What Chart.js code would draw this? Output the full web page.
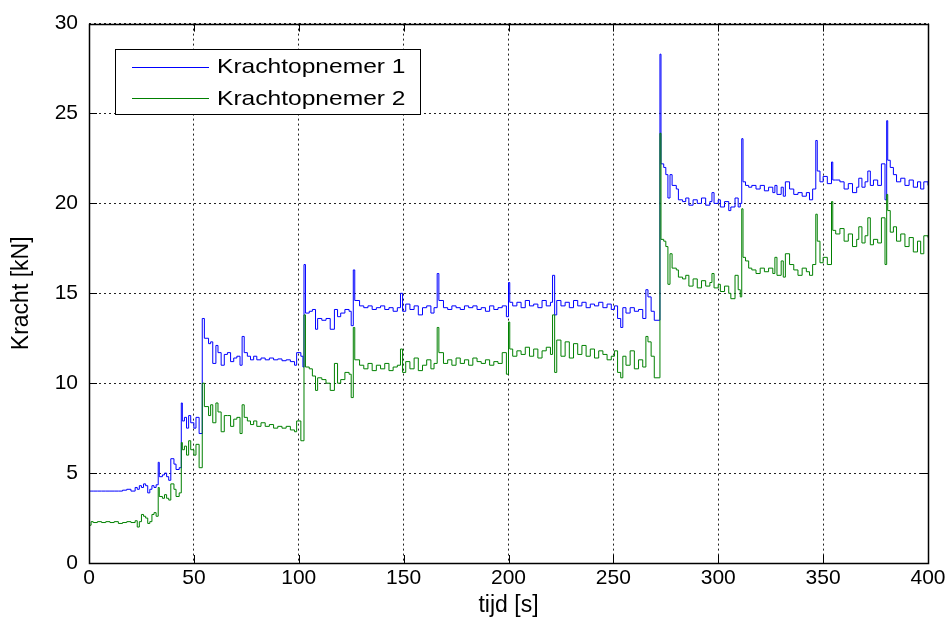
<!DOCTYPE html>
<html>
<head>
<meta charset="utf-8">
<script src="https://cdn.jsdelivr.net/npm/chart.js@4.4.1/dist/chart.umd.min.js"></script>
<style>
  html, body { margin: 0; padding: 0; background: #fff; }
  #wrap { width: 950px; height: 619px; }
</style>
</head>
<body>
<div id="wrap"><canvas id="c" width="950" height="619"></canvas></div>
<script>
// ---- data ----
const tijd = [0,1,2,4,6,8,10,12,14,16,18,20,22,23,24,25,26,27,28,29,30,31,32,33,33.5,35,36,37,38,39,40.5,41.5,43,44,44.5,45.5,46.5,47.5,48.5,50,51,52.5,
54,55,57,58,59,60.5,61.5,63,64.5,66,67.5,69,70.5,72,73,74,75.5,77,78.5,80,82,84,86,88,90,92,94,96,98,99,101,102,
102.5,103.2,105,106.5,108,109,111,113,115,117,118.5,120,122,124,125,126,126.7,129,131,133,135,137,139,141,143,145,147,148.5,149.5,151,153,155,157,159,161,163,164.5,166,166.8,169,171,173,175,177,179,181,183,185,187,189,191,193,195,197,199,
200,200.6,202,204,206,208,210,212,214,216,218,220,221,222,223,225,227,229,231,233,235,237,239,241,243,245,247,249,250.5,252,253.5,254.5,256,258,260,262,264,265.5,266.5,268,269.5,271.8,
272.2,272.7,274,275,276,277,278,280,281,283,284.5,286,288,290,292,294,296,297,298,300,301,303,305,306,308,309.5,310.5,
311.2,311.8,313,314.5,316,318,320,322,324,326,327,328,330,331,332,334,336,338,340,342,343.5,345,
346.5,347.2,348.5,350,352,354,354.6,356,358,360,362,364,366,367,368.5,370,371.3,372.5,374,376,377.8,379.5,
380.3,380.8,382,383.5,385,387,389,391,393,395,396.5,398,400];

const krachtopnemer1 = [4.0,4.0,4.0,4.0,4.0,4.0,4.0,4.0,4.0,4.05,4.1,4.0,4.2,4.1,4.3,4.2,4.4,4.3,3.9,4.1,4.3,4.2,4.35,5.6,4.8,4.9,5.0,4.8,4.6,5.8,5.5,5.2,5.3,8.9,7.9,8.1,7.5,8.2,7.8,7.5,8.1,7.2,
13.6,12.5,12.2,12.3,11.1,12.1,11.7,11.0,11.6,11.7,11.2,11.4,11.5,11.0,12.6,11.7,11.5,11.3,11.5,11.3,11.4,11.3,11.4,11.3,11.35,11.25,11.3,11.2,11.0,11.7,11.5,10.9,
16.6,13.9,14.0,14.1,13.0,13.6,13.5,13.6,13.0,14.1,13.7,13.9,14.1,14.0,13.2,16.3,14.6,14.3,14.2,14.3,14.1,14.2,14.3,14.1,14.2,14.0,14.2,15.0,14.0,14.4,14.1,14.3,13.8,14.2,14.3,13.9,14.2,16.1,14.6,14.2,14.1,14.3,14.2,14.1,14.3,14.2,14.3,14.1,14.2,14.0,14.3,14.1,14.2,14.3,13.7,
15.6,14.5,14.3,14.5,14.2,14.6,14.3,14.4,14.2,14.6,14.3,14.5,16.0,13.8,14.6,14.3,14.5,14.2,14.6,14.3,14.5,14.2,14.4,14.3,14.5,14.2,14.4,14.1,14.3,13.6,13.1,14.2,13.9,14.2,14.0,14.1,13.6,15.2,14.8,14.0,13.5,13.5,
28.3,22.2,22.0,21.6,20.3,21.6,21.0,20.8,20.2,20.1,20.3,19.9,20.2,20.0,20.3,19.9,20.1,20.6,20.0,20.2,19.8,20.1,19.6,19.8,20.3,19.8,20.0,
23.6,21.2,21.0,20.9,21.0,20.8,21.0,20.7,20.9,20.6,21.0,20.5,20.9,20.4,21.2,20.8,20.5,20.6,20.4,20.6,20.2,20.8,
23.5,21.8,21.2,21.5,21.1,22.3,21.3,21.3,21.2,20.8,21.1,20.6,20.9,21.4,20.9,21.2,21.8,21.0,21.3,21.0,22.2,20.2,
24.6,22.4,22.0,21.6,21.2,21.4,21.0,21.3,20.9,21.2,20.8,21.2,21.0];

const krachtopnemer2 = [2.1,2.3,2.25,2.3,2.25,2.3,2.25,2.3,2.2,2.25,2.3,2.25,2.35,2.0,2.3,2.7,2.6,2.5,2.2,2.3,2.7,2.8,2.6,4.2,3.7,3.6,3.8,3.6,3.5,4.4,4.1,3.7,3.9,6.7,6.3,6.5,6.0,6.8,6.3,6.0,6.6,5.3,
10.0,8.7,8.2,8.8,7.8,8.9,8.4,7.3,8.2,8.2,7.6,8.0,8.1,7.2,8.8,8.1,7.9,7.7,7.9,7.6,7.8,7.6,7.7,7.5,7.6,7.5,7.6,7.4,7.3,7.9,6.8,6.8,
13.8,10.9,10.8,10.4,9.6,10.3,10.2,10.0,9.6,11.1,10.0,10.2,10.6,10.5,9.2,13.1,11.3,11.0,10.8,11.1,10.7,11.0,10.8,11.1,10.7,10.9,11.0,11.9,10.6,11.2,10.8,11.4,10.7,11.0,11.3,10.8,11.1,13.1,11.7,11.1,11.3,11.0,11.4,11.1,11.3,11.0,11.4,11.2,11.1,11.3,11.0,11.2,11.1,11.7,10.5,
13.4,11.9,11.5,11.8,11.6,12.0,11.5,11.9,11.4,11.8,12.0,11.6,13.8,10.6,12.4,11.5,12.3,11.4,12.2,11.6,12.1,11.5,11.9,11.4,11.8,11.6,11.3,11.5,11.8,10.6,10.3,11.5,11.0,11.8,10.8,11.3,10.9,12.6,12.3,11.5,10.3,10.3,
23.9,18.0,17.9,17.6,15.5,17.2,16.4,16.3,15.9,15.8,16.0,15.4,15.8,15.3,15.7,15.4,15.6,16.1,15.3,15.5,15.1,15.4,15.0,14.7,16.0,15.2,14.8,
19.7,17.0,16.8,16.4,16.3,16.1,16.4,16.2,16.4,16.1,17.0,16.0,16.8,15.9,17.2,16.6,16.3,16.0,16.4,16.2,16.0,16.6,
19.4,17.9,16.7,17.0,16.6,20.1,18.5,18.3,18.6,17.9,18.3,17.6,18.0,18.7,17.8,18.2,19.2,17.7,18.0,17.8,19.2,16.6,
20.5,19.6,18.4,18.7,17.9,18.3,17.6,18.1,17.3,17.9,17.2,18.2,18.1];

const seriesNames = ['Krachtopnemer 1', 'Krachtopnemer 2'];
const xTicks = [0, 50, 100, 150, 200, 250, 300, 350, 400];
const yTicks = [0, 5, 10, 15, 20, 25, 30];

// ---- build ----
const pts = (ys) => tijd.map((t, i) => ({ x: t, y: ys[i] }));
const FONT = "'Liberation Sans', Arial, Helvetica, sans-serif";

const boxPlugin = {
  id: 'matlabBox',
  afterDraw(chart) {
    const { ctx, chartArea: a, scales } = chart;
    ctx.save();
    // inward ticks
    ctx.strokeStyle = '#000';
    ctx.lineWidth = 1;
    ctx.beginPath();
    const tl = 8;
    xTicks.forEach(v => {
      const x = Math.round(scales.x.getPixelForValue(v)) + 0.5;
      ctx.moveTo(x, a.bottom); ctx.lineTo(x, a.bottom - tl);
      ctx.moveTo(x, a.top); ctx.lineTo(x, a.top + tl);
    });
    yTicks.forEach(v => {
      const y = Math.round(scales.y.getPixelForValue(v)) + 0.5;
      ctx.moveTo(a.left, y); ctx.lineTo(a.left + tl, y);
      ctx.moveTo(a.right, y); ctx.lineTo(a.right - tl, y);
    });
    ctx.stroke();
    // box
    ctx.lineWidth = 1.5;
    ctx.strokeRect(Math.round(a.left) + 0.5, Math.round(a.top) + 0.5,
                   Math.round(a.right - a.left), Math.round(a.bottom - a.top));
    // legend
    const lx = 115.5, ly = 49.5, lw = 305, lh = 65;
    ctx.fillStyle = '#fff';
    ctx.fillRect(lx, ly, lw, lh);
    ctx.lineWidth = 1;
    ctx.strokeStyle = '#000';
    ctx.strokeRect(lx, ly, lw, lh);
    chart.data.datasets.forEach((ds, i) => {
      const y = 66.5 + i * 31.5;
      ctx.strokeStyle = ds.borderColor;
      ctx.lineWidth = 1;
      ctx.beginPath();
      ctx.moveTo(132, Math.round(y) + 0.5);
      ctx.lineTo(209, Math.round(y) + 0.5);
      ctx.stroke();
      ctx.save();
      ctx.translate(217, y);
      ctx.scale(1.17, 1);
      ctx.fillStyle = '#000';
      ctx.font = '21px ' + FONT;
      ctx.textBaseline = 'middle';
      ctx.textAlign = 'left';
      ctx.fillText(ds.label, 0, 1);
      ctx.restore();
    });
    ctx.restore();
  }
};

new Chart(document.getElementById('c'), {
  type: 'line',
  data: {
    datasets: [
      { label: seriesNames[0], data: pts(krachtopnemer1), borderColor: '#0000ff', borderWidth: 1, pointRadius: 0, stepped: true, fill: false, order: 1 },
      { label: seriesNames[1], data: pts(krachtopnemer2), borderColor: '#008000', borderWidth: 1, pointRadius: 0, stepped: true, fill: false, order: 0 }
    ]
  },
  options: {
    responsive: false,
    animation: false,
    devicePixelRatio: 1,
    layout: { padding: { left: 0, top: 22, right: 22, bottom: 0 } },
    plugins: { legend: { display: false }, tooltip: { enabled: false } },
    scales: {
      x: {
        type: 'linear', min: 0, max: 400,
        afterBuildTicks: (s) => { s.ticks = xTicks.map(v => ({ value: v })); },
        afterFit: (s) => { s.height = 56; },
        ticks: { color: '#000', padding: 3, maxRotation: 0, font: { family: FONT, size: 21 } },
        grid: { color: '#222', lineWidth: 1, borderDash: [2, 3], drawTicks: false },
        border: { display: false, dash: [2, 3] },
        title: { display: true, text: 'tijd [s]', color: '#000', padding: { top: 0, bottom: 0 }, font: { family: FONT, size: 23 } }
      },
      y: {
        type: 'linear', min: 0, max: 30,
        afterBuildTicks: (s) => { s.ticks = yTicks.map(v => ({ value: v })); },
        afterFit: (s) => { s.width = 89; },
        ticks: { color: '#000', padding: 11, font: { family: FONT, size: 21 } },
        grid: { color: '#222', lineWidth: 1, borderDash: [2, 3], drawTicks: false },
        border: { display: false, dash: [2, 3] },
        title: { display: true, text: 'Kracht [kN]', color: '#000', padding: { top: 8, bottom: 0 }, font: { family: FONT, size: 23 } }
      }
    }
  },
  plugins: [boxPlugin]
});
</script>
</body>
</html>
